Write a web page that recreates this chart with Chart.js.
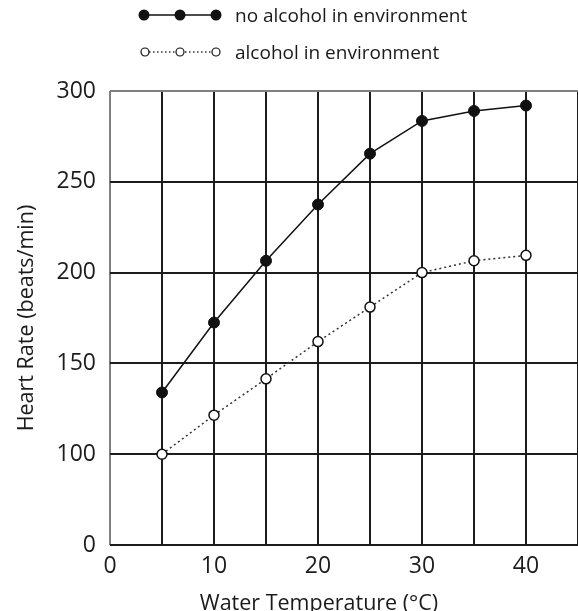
<!DOCTYPE html>
<html><head><meta charset="utf-8">
<script src="https://cdn.jsdelivr.net/npm/chart.js@4/dist/chart.umd.min.js"></script>
<style>
html,body{margin:0;padding:0;background:#fff;}
#wrap{position:relative;width:578px;height:611px;overflow:hidden;}
canvas{position:absolute;left:0;top:0;}
.leg{position:absolute;height:24px;font-family:'Open Sans',sans-serif;font-size:19px;color:#1a1a1a;display:flex;align-items:center;white-space:nowrap;}
.leg svg{display:block;}
#xt{position:absolute;left:319px;top:590px;transform:translateX(-50%);font-family:'Open Sans',sans-serif;font-size:21.5px;color:#1a1a1a;white-space:nowrap;line-height:24px;}
</style></head><body>
<div id="wrap">
<canvas id="c" width="578" height="611"></canvas>
<div class="leg" style="top:3px;left:136px"><svg width="99" height="24"><line x1="8" y1="12" x2="80" y2="12" stroke="#111" stroke-width="1.5"/><circle cx="8" cy="12" r="5.5" fill="#111"/><circle cx="44" cy="12" r="5.5" fill="#111"/><circle cx="80" cy="12" r="5.5" fill="#111"/></svg><span>no alcohol in environment</span></div>
<div class="leg" style="top:40px;left:136px"><svg width="99" height="24"><line x1="9" y1="12" x2="80" y2="12" stroke="#333" stroke-width="1.3" stroke-dasharray="1.5 2.5"/><circle cx="9" cy="12" r="4" fill="#fff" stroke="#111" stroke-width="1.2"/><circle cx="44" cy="12" r="4" fill="#fff" stroke="#111" stroke-width="1.2"/><circle cx="80" cy="12" r="4" fill="#fff" stroke="#111" stroke-width="1.2"/></svg><span>alcohol in environment</span></div>
<div id="xt">Water Temperature (°C)</div>
</div>
<script>
const temperatures = [5, 10, 15, 20, 25, 30, 35, 40];
const noAlcohol = [134, 172.5, 206.5, 237.5, 265.5, 283.5, 289, 292];
const withAlcohol = [100, 121.5, 141.5, 162, 181, 200, 206.5, 209.5];
const xTickLabels = [0, 10, 20, 30, 40];
const yTickLabels = [0, 100, 150, 200, 250, 300];
const seriesNames = ['no alcohol in environment', 'alcohol in environment'];
const xTitle = 'Water Temperature (°C)';
const yTitle = 'Heart Rate (beats/min)';

const toPts = arr => temperatures.map((t, i) => ({x: t, y: arr[i]}));
const dark = '#1c1c1c';

new Chart(document.getElementById('c'), {
  type: 'line',
  data: {
    datasets: [
      {label: seriesNames[0], data: toPts(noAlcohol), borderColor: '#111', borderWidth: 1.5,
       pointRadius: 5.5, pointBackgroundColor: '#111', pointBorderColor: '#111', pointBorderWidth: 1, tension: 0},
      {label: seriesNames[1], data: toPts(withAlcohol), borderColor: '#333', borderWidth: 1.5, borderDash: [2, 3],
       pointRadius: 5, pointBackgroundColor: '#fff', pointBorderColor: '#111', pointBorderWidth: 1.5, tension: 0}
    ]
  },
  options: {
    responsive: false, animation: false, devicePixelRatio: 1,
    layout: {autoPadding: false, padding: {top: 91, right: 0, bottom: 0, left: 0}},
    plugins: {legend: {display: false}, tooltip: {enabled: false}},
    scales: {
      x: {
        type: 'linear', min: 0, max: 45,
        ticks: {stepSize: 5, autoSkip: false, maxRotation: 0, padding: 8, color: dark,
          font: {family: 'Open Sans', size: 23},
          callback: v => xTickLabels.includes(v) ? String(v) : ''},
        grid: {lineWidth: 2, drawTicks: false, color: c => c.tick && c.tick.value === 0 ? '#808080' : dark},
        border: {display: false},
        afterFit: s => { s.height = 66; s.paddingRight = 0; }
      },
      y: {
        min: 50, max: 300,
        ticks: {stepSize: 50, padding: 14, color: dark, font: {family: 'Open Sans', size: 23},
          callback: v => v === 50 ? String(yTickLabels[0]) : String(v)},
        grid: {lineWidth: 2, drawTicks: false, color: c => c.tick && c.tick.value === 300 ? '#808080' : dark},
        border: {display: false},
        title: {display: true, text: yTitle, color: dark, font: {family: 'Open Sans', size: 21.5}, padding: {top: 14, bottom: 0}},
        afterFit: s => { s.width = 110; }
      }
    }
  }
});
</script>
</body></html>
